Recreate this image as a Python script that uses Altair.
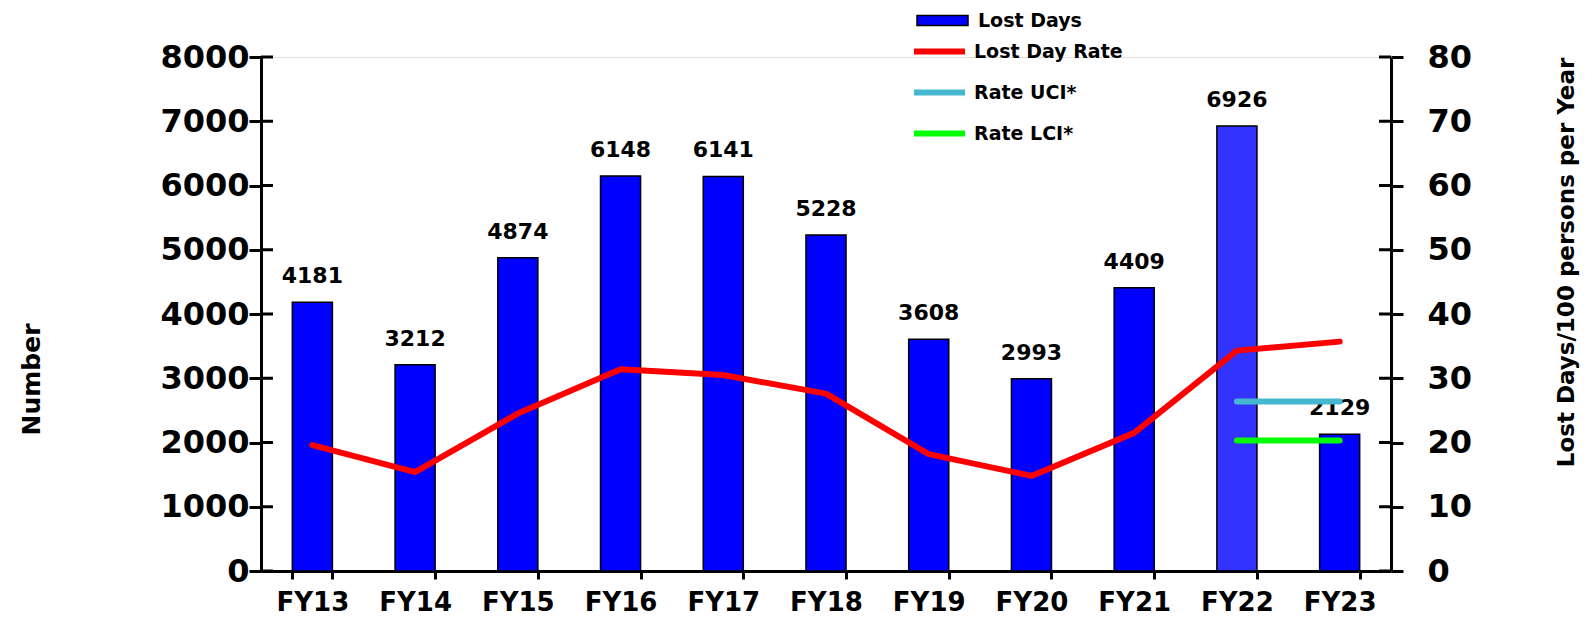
import altair as alt
import pandas as pd

years = ["FY13", "FY14", "FY15", "FY16", "FY17", "FY18", "FY19", "FY20", "FY21", "FY22", "FY23"]
lost_days = [4181, 3212, 4874, 6148, 6141, 5228, 3608, 2993, 4409, 6926, 2129]
lost_day_rate = [19.6, 15.4, 24.5, 31.4, 30.5, 27.6, 18.2, 14.8, 21.5, 34.3, 35.7]
ci_years = ["FY22", "FY23"]
rate_uci = [26.4, 26.4]
rate_lci = [20.3, 20.3]
left_ticks = [0, 1000, 2000, 3000, 4000, 5000, 6000, 7000, 8000]
right_ticks = [0, 10, 20, 30, 40, 50, 60, 70, 80]

line_names = ["Lost Day Rate", "Rate UCI*", "Rate LCI*"]
line_colors = ["#FF0000", "#45B8D0", "#00FF00"]

FONT = "DejaVu Sans"
W, H = 1130, 514

bars_df = pd.DataFrame({"year": years, "days": lost_days, "bar_series": "Lost Days"})
lines_df = pd.concat([
    pd.DataFrame({"year": years, "rate": lost_day_rate, "line_series": line_names[0]}),
    pd.DataFrame({"year": ci_years, "rate": rate_uci, "line_series": line_names[1]}),
    pd.DataFrame({"year": ci_years, "rate": rate_lci, "line_series": line_names[2]}),
], ignore_index=True)
lt_df = pd.DataFrame({"days": left_ticks})
rt_df = pd.DataFrame({"rate": right_ticks})

left_axis = alt.Axis(
    title="Number", values=left_ticks, format="d", grid=False,
    labelFont=FONT, labelFontWeight="bold", labelFontSize=32, labelColor="black",
    tickSize=12, tickWidth=3, tickColor="black", domainColor="black", domainWidth=3,
    labelPadding=0, titleFont=FONT, titleFontWeight="bold", titleFontSize=25,
    titleColor="black", titleAngle=-90, titleX=-230, titleY=322,
    titleAlign="center", titleBaseline="middle",
)
right_axis = alt.Axis(
    orient="right", title="Lost Days/100 persons per Year",
    values=right_ticks, format="d", grid=False,
    labelFont=FONT, labelFontWeight="bold", labelFontSize=32, labelColor="black",
    tickSize=12, tickWidth=3, tickColor="black", domainColor="black", domainWidth=3,
    labelPadding=24, titleFont=FONT, titleFontWeight="bold", titleFontSize=23,
    titleColor="black", titleAngle=-90, titleX=175, titleY=205,
    titleAlign="center", titleBaseline="middle",
)

x_enc = alt.X(
    "year:N", sort=years,
    scale=alt.Scale(paddingInner=0.61, paddingOuter=0.305),
    axis=alt.Axis(
        title=None, labelAngle=0, labelFont=FONT, labelFontWeight="bold", labelFontSize=26,
        labelColor="black", labelBaseline="alphabetic", tickBand="extent", tickSize=8,
        tickWidth=3, tickColor="black", domainColor="black", domainWidth=3,
        labelPadding=31, grid=False,
    ),
)

bars = alt.Chart(bars_df).mark_bar(stroke="black", strokeWidth=1.5).encode(
    x=x_enc,
    y=alt.Y("days:Q", scale=alt.Scale(domain=[0, 8000], nice=False), axis=left_axis),
    fill=alt.Fill(
        "bar_series:N",
        scale=alt.Scale(domain=["Lost Days"], range=["#0000FF"]),
        legend=alt.Legend(
            title=None, orient="none", legendX=655, legendY=-63, padding=0,
            symbolType="M-1,-0.2H1V0.2H-1Z", symbolSize=2601,
            symbolStrokeColor="black", symbolStrokeWidth=1.5, symbolOpacity=1,
            labelFont=FONT, labelFontWeight="bold", labelFontSize=19, labelColor="black",
            labelOffset=9,
        ),
    ),
    fillOpacity=alt.condition(alt.datum.year == "FY22", alt.value(0.8), alt.value(1.0)),
)

labels = alt.Chart(bars_df).mark_text(
    baseline="bottom", dy=-14, font=FONT, fontWeight="bold", fontSize=22, color="black"
).encode(
    x=alt.X("year:N", sort=years),
    y=alt.Y("days:Q", axis=left_axis),
    text=alt.Text("days:Q", format="d"),
)

left_inner = alt.Chart(lt_df).mark_rule(color="black", strokeWidth=3).encode(
    y=alt.Y("days:Q", axis=left_axis),
    x=alt.value(0), x2=alt.value(12),
)

left = alt.layer(bars, labels, left_inner)

lines = alt.Chart(lines_df).mark_line(strokeWidth=6, strokeCap="round", strokeJoin="round").encode(
    x=alt.X("year:N", sort=years),
    y=alt.Y("rate:Q", scale=alt.Scale(domain=[0, 80], nice=False), axis=right_axis),
    stroke=alt.Stroke(
        "line_series:N",
        scale=alt.Scale(domain=line_names, range=line_colors),
        legend=alt.Legend(
            title=None, orient="none", legendX=650, legendY=-34, padding=0,
            symbolType="stroke", symbolSize=2601, symbolStrokeWidth=6,
            labelFont=FONT, labelFontWeight="bold", labelFontSize=19, labelColor="black",
            labelOffset=6, rowPadding=-9,
        ),
    ),
    detail="line_series:N",
)

right_inner = alt.Chart(rt_df).mark_rule(color="black", strokeWidth=3).encode(
    y=alt.Y("rate:Q", axis=right_axis),
    x=alt.value(W - 12), x2=alt.value(W),
)

right = alt.layer(lines, right_inner)

chart = alt.layer(left, right).resolve_scale(y="independent").properties(
    width=W, height=H,
    autosize=alt.AutoSizeParams(type="none"),
    padding={"left": 253, "top": 49, "right": 196, "bottom": 48},
).configure_view(strokeWidth=0, stroke="transparent").configure(background="white")

chart.save("out.html", embed_options={"renderer": "svg", "actions": False})
